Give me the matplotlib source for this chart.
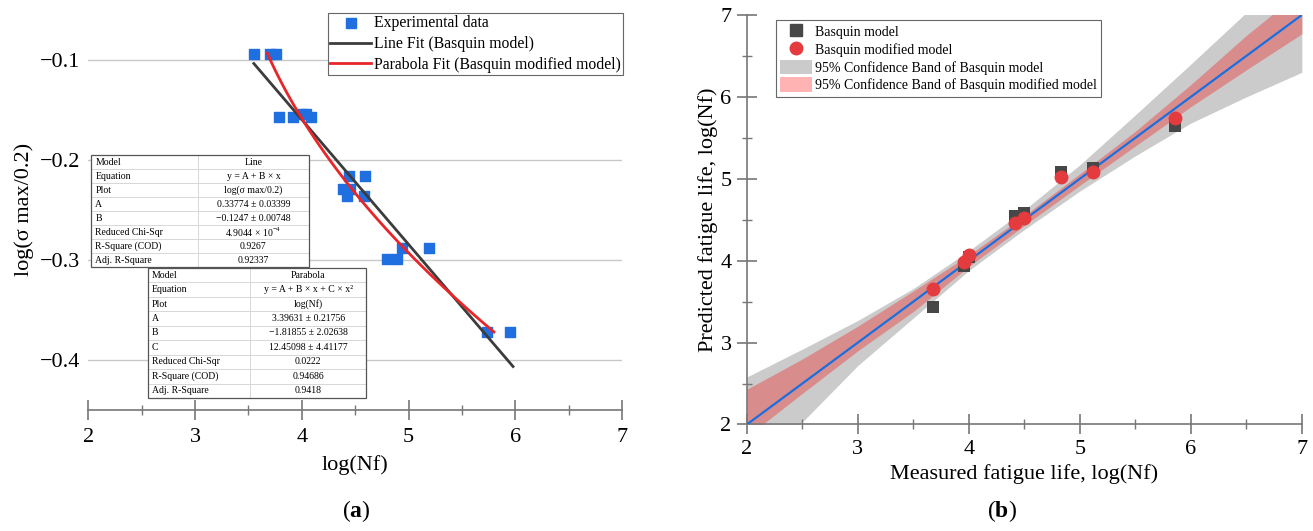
import numpy as np
import matplotlib.pyplot as plt
from matplotlib.lines import Line2D
from matplotlib.patches import Patch
from matplotlib.ticker import MultipleLocator

plt.rcParams['font.family'] = ['Liberation Serif', 'DejaVu Serif']
plt.rcParams['mathtext.fontset'] = 'custom'
plt.rcParams['mathtext.rm'] = 'Liberation Serif'
plt.rcParams['mathtext.bf'] = 'Liberation Serif:bold'

# ---- (a) S-N data ----
log_nf = [3.55, 3.70, 3.76, 3.79, 3.92, 4.00, 4.04, 4.09, 4.44, 4.59,
          4.39, 4.45, 4.42, 4.58, 4.94, 5.19, 4.80, 4.89, 5.74, 5.95]
log_sig = [-0.094, -0.094, -0.094, -0.157, -0.157, -0.154, -0.154, -0.157, -0.216, -0.216,
           -0.229, -0.229, -0.2365, -0.2365, -0.288, -0.288, -0.299, -0.299, -0.3725, -0.3725]

# line fit ends
line_x = [3.55, 5.98]
line_y = [-0.104, -0.407]

# parabola fit coefficients (from the table), log(Nf) = A + B*s + C*s^2
par_A, par_B, par_C = 3.39631, -1.81855, 12.45098
par_s_range = [-0.0935, -0.3725]

line_rows = [['Model', 'Line'],
             ['Equation', 'y = A + B × x'],
             ['Plot', 'log(σ max/0.2)'],
             ['A', '0.33774 ± 0.03399'],
             ['B', '−0.1247 ± 0.00748'],
             ['Reduced Chi-Sqr', r'4.9044 × 10$^{-4}$'],
             ['R-Square (COD)', '0.9267'],
             ['Adj. R-Square', '0.92337']]
par_rows = [['Model', 'Parabola'],
            ['Equation', 'y = A + B × x + C × x²'],
            ['Plot', 'log(Nf)'],
            ['A', '3.39631 ± 0.21756'],
            ['B', '−1.81855 ± 2.02638'],
            ['C', '12.45098 ± 4.41177'],
            ['Reduced Chi-Sqr', '0.0222'],
            ['R-Square (COD)', '0.94686'],
            ['Adj. R-Square', '0.9418']]

# ---- (b) predicted vs measured ----
measured = [3.68, 3.96, 4.00, 4.42, 4.50, 4.83, 5.12, 5.86]
pred_basquin = [3.43, 3.93, 4.04, 4.55, 4.58, 5.08, 5.13, 5.65]
pred_modified = [3.66, 3.98, 4.07, 4.46, 4.52, 5.02, 5.08, 5.74]

band_x = [2.0, 2.5, 3.0, 3.5, 4.0, 4.5, 5.0, 5.5, 6.0, 6.5, 7.0]
gray_hi = [2.58, 2.92, 3.27, 3.66, 4.12, 4.62, 5.17, 5.78, 6.40, 7.03, 7.65]
gray_lo = [1.45, 2.03, 2.72, 3.30, 3.88, 4.38, 4.85, 5.28, 5.68, 6.00, 6.30]
red_hi = [2.43, 2.80, 3.20, 3.63, 4.07, 4.55, 5.06, 5.58, 6.15, 6.75, 7.30]
red_lo = [1.85, 2.38, 2.90, 3.38, 3.93, 4.43, 4.92, 5.40, 5.88, 6.33, 6.77]
ref_line = [2, 7]

AX_GRAY = '#777777'

fig = plt.figure(figsize=(13.13, 5.31), dpi=100)

# ================= (a) =================
ax1 = fig.add_axes([0.0674, 0.2288, 0.4062, 0.7533])
ax1.set_xlim(2, 7)
ax1.set_ylim(-0.45, -0.05)
for s in ['left', 'top', 'right']:
    ax1.spines[s].set_visible(False)
ax1.spines['bottom'].set_color(AX_GRAY)
ax1.spines['bottom'].set_linewidth(1.2)
ax1.set_yticks([-0.1, -0.2, -0.3, -0.4])
ax1.xaxis.set_major_locator(MultipleLocator(1))
ax1.xaxis.set_minor_locator(MultipleLocator(0.5))
ax1.tick_params(axis='x', which='major', direction='inout', length=14, width=1.2,
                color=AX_GRAY, labelsize=16, pad=6)
ax1.tick_params(axis='x', which='minor', direction='inout', length=7, width=1.0, color=AX_GRAY)
ax1.tick_params(axis='y', length=0, labelsize=16, pad=6)
ax1.yaxis.grid(True, color='#c8c8c8', lw=1.0)
ax1.set_axisbelow(True)

ax1.scatter(log_nf, log_sig, marker='s', s=42, color='#1f6fe0', zorder=3,
            label='Experimental data')
ax1.plot(line_x, line_y, color='#3c3c3c', lw=2, zorder=4, label='Line Fit (Basquin model)')
s_vals = np.linspace(par_s_range[0], par_s_range[1], 100)
ax1.plot(par_A + par_B * s_vals + par_C * s_vals ** 2, s_vals, color='#e8262a', lw=2,
         zorder=4, label='Parabola Fit (Basquin modified model)')

ax1.set_xlabel('log(Nf)', fontsize=16, labelpad=6)
ax1.set_ylabel('log(σ max/0.2)', fontsize=16, labelpad=4)

leg1 = ax1.legend(loc='upper right', bbox_to_anchor=(1.003, 0.991), fontsize=11.3,
                  frameon=True, fancybox=False, framealpha=1, edgecolor='#666666',
                  borderpad=0.15, handletextpad=0.2, labelspacing=0.3, handlelength=2.6,
                  borderaxespad=0)
leg1.get_frame().set_linewidth(0.8)


def draw_table(ax, rows, bbox, col_w):
    tbl = ax.table(cellText=rows, colWidths=col_w, bbox=bbox, cellLoc='center')
    tbl.auto_set_font_size(False)
    tbl.set_fontsize(7)
    tbl.set_zorder(6)
    for (r, c), cell in tbl.get_celld().items():
        cell.set_edgecolor('#d4d4d4')
        cell.set_linewidth(0.6)
        cell.set_facecolor('white')
        if c == 0:
            cell.get_text().set_ha('left')
            cell._loc = 'left'
            cell.PAD = 0.04
    border = plt.Rectangle((bbox[0], bbox[1]), bbox[2], bbox[3], transform=ax.transAxes,
                           fill=False, edgecolor='#555555', lw=0.9, zorder=7, clip_on=False)
    ax.add_patch(border)
    return tbl


draw_table(ax1, line_rows, [0.0047, 0.356, 0.4088, 0.28], [0.49, 0.51])
draw_table(ax1, par_rows, [0.1116, 0.0288, 0.4088, 0.325], [0.47, 0.53])

# ================= (b) =================
ax2 = fig.add_axes([0.5688, 0.2006, 0.4227, 0.7712])
ax2.set_xlim(2, 7)
ax2.set_ylim(2, 7)
for s in ['top', 'right']:
    ax2.spines[s].set_visible(False)
for s in ['left', 'bottom']:
    ax2.spines[s].set_color(AX_GRAY)
    ax2.spines[s].set_linewidth(1.2)
for axis in (ax2.xaxis, ax2.yaxis):
    axis.set_major_locator(MultipleLocator(1))
    axis.set_minor_locator(MultipleLocator(0.5))
ax2.tick_params(which='major', direction='inout', length=14, width=1.2, color=AX_GRAY,
                labelsize=16, pad=4)
ax2.tick_params(which='minor', direction='inout', length=7, width=1.0, color=AX_GRAY)

ax2.fill_between(band_x, gray_lo, gray_hi, color='#cbcbcb', lw=0, zorder=1)
ax2.fill_between(band_x, red_lo, red_hi, color='#d98c8c', lw=0, zorder=2)
ax2.plot(ref_line, ref_line, color='#1a6fe0', lw=1.6, zorder=3)
ax2.scatter(measured, pred_basquin, marker='s', s=72, color='#474747', zorder=4, lw=0)
ax2.scatter(measured, pred_modified, marker='o', s=100, color='#e33b3e', zorder=5, lw=0)

ax2.set_xlabel('Measured fatigue life, log(Nf)', fontsize=16, labelpad=4)
ax2.set_ylabel('Predicted fatigue life, log(Nf)', fontsize=16, labelpad=2)

handles = [Line2D([], [], marker='s', ls='none', color='#474747', markersize=8),
           Line2D([], [], marker='o', ls='none', color='#e33b3e', markersize=9),
           Patch(facecolor='#cbcbcb', edgecolor='none'),
           Patch(facecolor='#ffb3b3', edgecolor='none')]
labels = ['Basquin model', 'Basquin modified model',
          '95% Confidence Band of Basquin model',
          '95% Confidence Band of Basquin modified model']
leg2 = ax2.legend(handles, labels, loc='upper left', bbox_to_anchor=(0.0526, 0.988),
                  fontsize=10, frameon=True, fancybox=False, framealpha=1,
                  edgecolor='#666666', borderpad=0.3, handletextpad=0.2,
                  labelspacing=0.2, handlelength=2.3, handleheight=1.25, borderaxespad=0)
leg2.get_frame().set_linewidth(0.8)

fig.text(0.2713, 0.038, r'($\mathbf{a}$)', fontsize=17, ha='center', va='center')
fig.text(0.7630, 0.038, r'($\mathbf{b}$)', fontsize=17, ha='center', va='center')

fig.savefig('out.png', dpi=100)
